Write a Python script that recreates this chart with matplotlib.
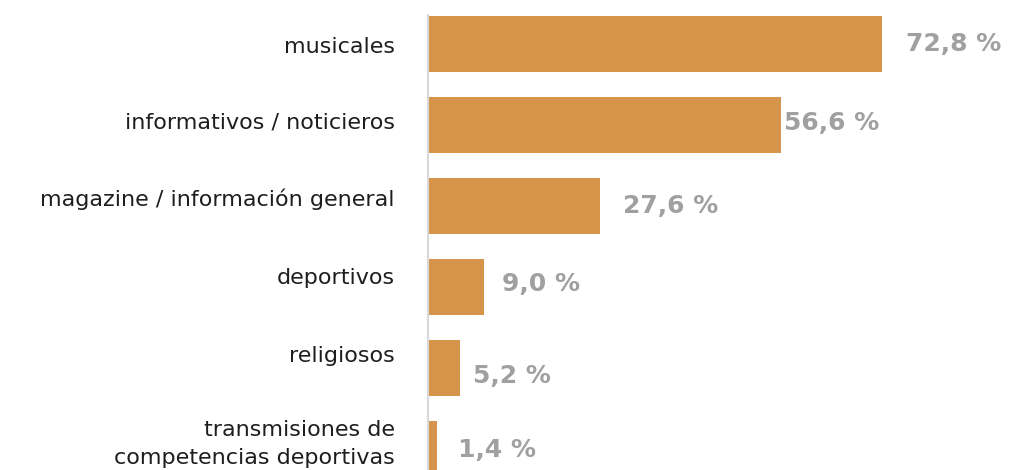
import matplotlib
matplotlib.use("Agg")
import matplotlib.pyplot as plt

# datos
categorias = ["musicales", "informativos / noticieros", "magazine / información general",
              "deportivos", "religiosos", "transmisiones de\ncompetencias deportivas"]
porcentajes = [72.8, 56.6, 27.6, 9.0, 5.2, 1.4]
etiquetas = ["72,8 %", "56,6 %", "27,6 %", "9,0 %", "5,2 %", "1,4 %"]

# ajustes finos de posición de los textos (px)
sep_valor = [24, 3, 23, 18, 13, 21]
dy_valor = [0, -2, 0, -3, 8, 1]
dy_cat = [3, -3, -7, -9, -12, -5]

color_barra = "#D6944A"
color_valor = "#A0A0A0"

plt.rcParams['font.family'] = ['DejaVu Sans']

fig = plt.figure(figsize=(10.12, 4.70), dpi=100)
ax = fig.add_axes([428 / 1012, 0, 584 / 1012, 455 / 470])

pos = list(range(len(categorias)))
ax.barh(pos, porcentajes, height=0.7, color=color_barra)

px = 72 / 100  # px -> puntos
for p, v, t, sx, sy in zip(pos, porcentajes, etiquetas, sep_valor, dy_valor):
    ax.annotate(t, (v, p), xytext=(sx * px, -sy * px), textcoords="offset points",
                va="center", ha="left", fontsize=18, fontweight="bold", color=color_valor)

for p, c, sy in zip(pos, categorias, dy_cat):
    ax.annotate(c, (0, p), xycoords=("axes fraction", "data"),
                xytext=(-33 * px, -sy * px), textcoords="offset points",
                va="center", ha="right", multialignment="right",
                fontsize=16, color="#1E1E1E", linespacing=1.45)

ax.set_xlim(0, 584 / 6.24)
ax.set_ylim(5.26, -0.36)
ax.set_yticks([])
ax.set_xticks([])
for s in ["top", "right", "bottom"]:
    ax.spines[s].set_visible(False)
ax.spines["left"].set_color("#D9D9D9")
ax.spines["left"].set_linewidth(1.5)

fig.savefig("out.png", dpi=100)
